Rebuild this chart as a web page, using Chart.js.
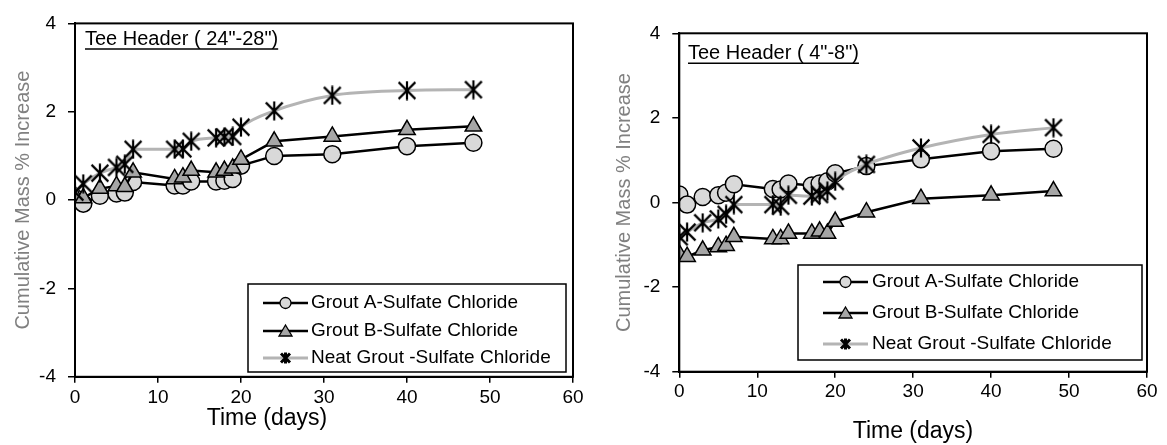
<!DOCTYPE html>
<html><head><meta charset="utf-8">
<script src="https://cdn.jsdelivr.net/npm/chart.js@4"></script>
<style>
html,body{margin:0;padding:0;background:#fff;overflow:hidden;width:1167px;height:445px}
#wrapL{position:absolute;left:0;top:0;width:600px;height:445px}
#wrapR{position:absolute;left:590px;top:0;width:577px;height:445px}
canvas{display:block}
</style></head><body>
<div id="wrapL"><canvas id="cL" width="600" height="445"></canvas></div>
<div id="wrapR"><canvas id="cR" width="577" height="445"></canvas></div>
<script>
// ---- data ----
const days = [0,1,3,5,6,7,12,13,14,17,18,19,20,24,31,40,48];
const leftGroutA = [0.05,-0.08,0.10,0.15,0.17,0.41,0.33,0.33,0.42,0.42,0.44,0.48,0.78,1.00,1.04,1.22,1.30];
const leftGroutB = [0.10,0.05,0.26,0.32,0.30,0.63,0.48,0.52,0.67,0.63,0.67,0.72,0.92,1.33,1.44,1.59,1.67];
const leftNeat   = [0.18,0.37,0.61,0.74,0.81,1.15,1.15,1.16,1.33,1.41,1.43,1.44,1.65,2.02,2.37,2.48,2.50];
const rightGroutA = [0.19,-0.05,0.13,0.17,0.23,0.43,0.32,0.31,0.45,0.40,0.45,0.50,0.69,0.86,1.02,1.21,1.27];
const rightGroutB = [-1.22,-1.28,-1.13,-1.05,-1.02,-0.81,-0.86,-0.86,-0.73,-0.73,-0.68,-0.73,-0.45,-0.23,0.09,0.17,0.27];
const rightNeat   = [-0.81,-0.70,-0.48,-0.39,-0.28,-0.05,-0.05,-0.09,0.17,0.15,0.19,0.27,0.50,0.90,1.29,1.61,1.77];
const seriesNames = ['Grout A-Sulfate Chloride','Grout B-Sulfate Chloride','Neat Grout -Sulfate Chloride'];
const chartTitles = ['Tee Header ( 24"-28")','Tee Header ( 4"-8")'];
const xTitle = 'Time (days)';
const yTitle = 'Cumulative Mass % Increase';
const xRange = [0,60], xStep = 10;
const yRange = [-4,4], yStep = 2;

// ---- styles ----
const F = '"Liberation Sans", Arial, sans-serif';
function asterisk(size, lw){
  const c=document.createElement('canvas'); c.width=c.height=size;
  const g=c.getContext('2d'); g.strokeStyle='#000'; g.lineWidth=lw;
  const p=lw/2+0.5, s=size-p;
  g.beginPath();
  g.moveTo(p,p); g.lineTo(s,s);
  g.moveTo(s,p); g.lineTo(p,s);
  g.moveTo(size/2,0.5); g.lineTo(size/2,size-0.5);
  g.stroke();
  return c;
}
const starBig = asterisk(20, 2.2);

function decorations(L){
  return {
    id:'deco',
    afterDraw(chart){
      const ctx=chart.ctx, a=chart.chartArea;
      ctx.save();
      ctx.strokeStyle='#000'; ctx.lineWidth=2;
      ctx.strokeRect(a.left,a.top,a.right-a.left,a.bottom-a.top);
      // title
      ctx.font='20px '+F; ctx.fillStyle='#000'; ctx.textBaseline='middle'; ctx.textAlign='left';
      ctx.fillText(L.title, L.titleX, L.titleY);
      const w=ctx.measureText(L.title).width;
      ctx.lineWidth=1.5; ctx.beginPath(); ctx.moveTo(L.titleX, L.titleY+10); ctx.lineTo(L.titleX+w, L.titleY+10); ctx.stroke();
      // x axis title
      ctx.font='23px '+F; ctx.textAlign='center'; ctx.fillStyle='#000';
      ctx.fillText(xTitle, L.xtX, L.xtY);
      // legend
      const g=L.legend;
      ctx.fillStyle='#fff'; ctx.fillRect(g.x1,g.y1,g.x2-g.x1,g.y2-g.y1);
      ctx.lineWidth=1.5; ctx.strokeStyle='#000'; ctx.strokeRect(g.x1,g.y1,g.x2-g.x1,g.y2-g.y1);
      chart.data.datasets.forEach((ds,i)=>{
        const y=g.rows[i], mx=(g.l1+g.l2)/2;
        ctx.strokeStyle=ds.borderColor; ctx.lineWidth=ds.borderWidth;
        ctx.beginPath(); ctx.moveTo(g.l1,y); ctx.lineTo(g.l2,y); ctx.stroke();
        ctx.lineWidth=1.3; ctx.strokeStyle='#000';
        if(i===0){ ctx.fillStyle=ds.pointBackgroundColor; ctx.beginPath(); ctx.arc(mx,y,5.5,0,Math.PI*2); ctx.fill(); ctx.stroke(); }
        else if(i===1){ ctx.fillStyle=ds.pointBackgroundColor; ctx.beginPath(); ctx.moveTo(mx,y-6); ctx.lineTo(mx+6.5,y+5); ctx.lineTo(mx-6.5,y+5); ctx.closePath(); ctx.fill(); ctx.stroke(); }
        else { ctx.lineWidth=3; ctx.beginPath(); ctx.moveTo(mx-4.5,y-4.5); ctx.lineTo(mx+4.5,y+4.5); ctx.moveTo(mx+4.5,y-4.5); ctx.lineTo(mx-4.5,y+4.5); ctx.moveTo(mx,y-5.5); ctx.lineTo(mx,y+5.5); ctx.stroke(); }
        ctx.fillStyle='#000'; ctx.font='19px '+F; ctx.textBaseline='middle'; ctx.textAlign='left';
        ctx.fillText(seriesNames[i], g.tx, y);
      });
      ctx.restore();
    }
  };
}

function build(id, A, B, N, L){
  const pts = arr => days.map((d,i)=>({x:d,y:arr[i]}));
  new Chart(document.getElementById(id), {
    type:'line',
    data:{datasets:[
      {label:seriesNames[0], data:pts(A), borderColor:'#000', borderWidth:2.5, pointStyle:'circle', pointRadius:8.5, pointBackgroundColor:'#d9d9d9', pointBorderColor:'#000', pointBorderWidth:1.5, tension:0, order:3},
      {label:seriesNames[1], data:pts(B), borderColor:'#000', borderWidth:2.5, pointStyle:'triangle', pointRadius:9.5, pointBackgroundColor:'#a6a6a6', pointBorderColor:'#000', pointBorderWidth:1.5, tension:0, order:2},
      {label:seriesNames[2], data:pts(N), borderColor:'#b4b4b4', borderWidth:3, pointStyle:starBig, pointRadius:9, tension:0.4, cubicInterpolationMode:'monotone', order:1}
    ]},
    options:{
      responsive:false, animation:false, events:[],
      layout:{padding:{left:0,top:L.top,right:L.right,bottom:0}},
      plugins:{legend:{display:false}, tooltip:{enabled:false}},
      scales:{
        x:{type:'linear', min:xRange[0], max:xRange[1],
           ticks:{stepSize:xStep, color:'#000', font:{family:F,size:19}, padding:L.xtp, maxRotation:0},
           grid:{drawOnChartArea:false, drawTicks:true, tickLength:6, color:'#000', lineWidth:1.5},
           border:{color:'#000', width:2},
           title:{display:false},
           afterFit(s){ s.height=L.xh; }},
        y:{type:'linear', min:yRange[0], max:yRange[1],
           ticks:{stepSize:yStep, color:'#000', font:{family:F,size:19}, padding:12},
           grid:{drawOnChartArea:false, drawTicks:true, tickLength:7, color:'#000', lineWidth:1.5},
           border:{color:'#000', width:2},
           title:{display:true, text:yTitle, color:'#808080', font:{family:F,size:20}, padding:{top:L.ytp,bottom:0}},
           afterFit(s){ s.width=L.yw; }}
      }
    },
    plugins:[decorations(L)]
  });
}

build('cL', leftGroutA, leftGroutB, leftNeat, {
  top:16.8, right:27, xh:68.2, yw:75, xtp:3.5, ytp:11,
  xtX:267, xtY:419,
  title:chartTitles[0], titleX:85, titleY:39,
  legend:{x1:248,y1:284,x2:566,y2:372,rows:[303,331,358],l1:263,l2:308,tx:311}
});
build('cR', rightGroutA, rightGroutB, rightNeat, {
  top:33.3, right:20, xh:73.3, yw:89.3, xtp:3, ytp:22,
  xtX:323, xtY:432,
  title:chartTitles[1], titleX:98, titleY:53.3,
  legend:{x1:208,y1:265,x2:552,y2:360,rows:[282,313,344],l1:233,l2:278,tx:282}
});
</script>
</body></html>
